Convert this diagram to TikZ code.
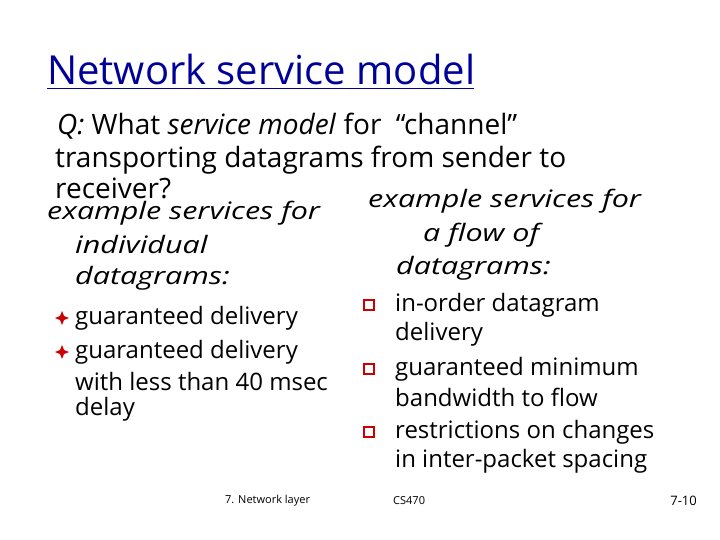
\documentclass[tikz,border=0pt]{standalone}
\usepackage{fontspec}
\setmainfont{Open Sans}
\newcommand{\wit}[1]{\scalebox{1.27}[1]{\itshape #1}}
\begin{document}
\begin{tikzpicture}[x=1pt,y=-1pt,
  t/.style={anchor=west,inner sep=0pt,font=\fontsize{24}{26}\selectfont},
  tq/.style={anchor=west,inner sep=0pt,font=\fontsize{28}{30}\selectfont},
  it/.style={t},
  ft/.style={anchor=west,inner sep=0pt,font=\fontsize{11}{12}\selectfont},
  star/.style={fill=red!80!black},
  sq/.style={draw=red!80!black,line width=1.5pt}]
\useasboundingbox (0,0) rectangle (720,540);
\node[anchor=west,inner sep=0pt,text=blue!60!black,font=\fontsize{40}{42}\selectfont] (title) at (47,70) {Network service model};
\draw[blue!60!black,line width=1pt] (47,89) -- (474,89);
\node[tq] (q1) at (57,126) {\textit{Q:} What \textit{service model} for \ ``channel''};
\node[tq] (q2) at (55,160) {transporting datagrams from sender to};
\node[tq] (q3) at (55,188) {receiver?};
\node[it] (l1) at (47,213) {\wit{example services for}};
\node[it] (l2) at (75,245) {\wit{individual}};
\node[it] (l3) at (75,278) {\wit{datagrams:}};
\foreach \y/\s [count=\i] in {318/guaranteed delivery,352/guaranteed delivery}{
  \fill[star] (62,\y-7) -- (64,\y-2) -- (69,\y) -- (64,\y+2) -- (62,\y+7) -- (60,\y+2) -- (55,\y) -- (60,\y-2) -- cycle;
  \node[t] (b\i) at (75,\y) {\s};}
\node[t] (b3) at (75,381) {with less than 40 msec};
\node[t] (b4) at (75,409) {delay};
\node[it] (r1) at (368,201) {\wit{example services for}};
\node[it] (r2) at (423,235) {\wit{a flow of}};
\node[it] (r3) at (396,268) {\wit{datagrams:}};
\foreach \y in {305,369,432}{\draw[sq] (364,\y-5) rectangle (374,\y+5);}
\node[t] (c1) at (395,305) {in-order datagram};
\node[t] (c2) at (395,334) {delivery};
\node[t] (c3) at (395,369) {guaranteed minimum};
\node[t] (c4) at (395,397) {bandwidth to flow};
\node[t] (c5) at (395,432) {restrictions on changes};
\node[t] (c6) at (395,461) {in inter-packet spacing};
\node[ft] (f1) at (225,501) {7. Network layer};
\node[ft] (f2) at (393,501) {CS470};
\node[anchor=east,inner sep=0pt,font=\fontsize{13}{14}\selectfont] (f3) at (697,501) {7-10};
\end{tikzpicture}
\end{document}
